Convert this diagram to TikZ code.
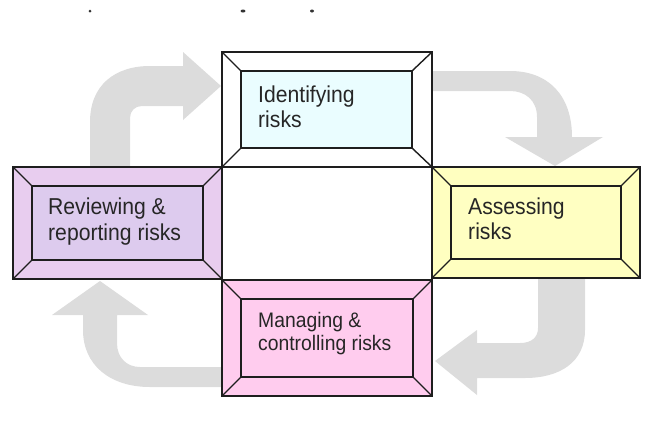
\documentclass[tikz,border=0pt]{standalone}
\usepackage{fontspec}
\setmainfont{Liberation Sans}[FakeStretch=0.92]
\definecolor{arrowgray}{HTML}{DCDCDC}
\definecolor{topin}{HTML}{EAFDFF}
\definecolor{topbev}{HTML}{FFFFFF}
\definecolor{leftin}{HTML}{DDCBEE}
\definecolor{leftbev}{HTML}{E8CDEF}
\definecolor{rightin}{HTML}{FFFFC2}
\definecolor{rightbev}{HTML}{FFFFC0}
\definecolor{botin}{HTML}{FFCCEE}
\definecolor{botbev}{HTML}{FFCCEE}
\definecolor{edgecol}{HTML}{1E1E1E}
\begin{document}
\begin{tikzpicture}[x=1pt,y=-1pt,
  edge/.style={draw=edgecol, line width=1.6pt},
  panel/.style={edge, rectangle, inner sep=0pt, outer sep=0pt},
  bevline/.style={draw=edgecol, line width=1.4pt},
  cyclearrow/.style={fill=arrowgray, draw=none},
  txt/.style={inner sep=0pt, font=\fontsize{23}{25}\selectfont, text=black!85},
  smalltxt/.style={inner sep=0pt, font=\fontsize{21}{23}\selectfont, text=black!85},
  dot/.style={fill=black!80, draw=none}]
\useasboundingbox (0,0) rectangle (662,445);
% remnants of cropped caption
\fill[dot] (90,11) ellipse (1.5 and 1.5);
\fill[dot] (243,11) ellipse (2.5 and 1.5);
\fill[dot] (312,11) ellipse (2 and 1.5);
% cycle arrows
\path[cyclearrow] (90,166) -- (90,122) .. controls (90,85) and (115,66) .. (150,66)
  -- (183,66) -- (183,52) -- (221,86) -- (183,120) -- (183,106) -- (142,106)
  .. controls (135,106) and (130,111) .. (130,118) -- (130,166) -- cycle;
\path[cyclearrow] (432,71) -- (510,71) .. controls (548,71) and (572,95) .. (572,137)
  -- (603,137) -- (555,166) -- (505,137) -- (537,137) -- (537,117)
  .. controls (537,100) and (525,91) .. (510,91) -- (432,91) -- cycle;
\path[cyclearrow] (538,279) -- (585,279) -- (585,330) .. controls (585,362) and (560,378) .. (525,378)
  -- (477,378) -- (477,395) -- (435,361) -- (477,330) -- (477,343) -- (520,343)
  .. controls (532,343) and (538,337) .. (538,328) -- cycle;
\path[cyclearrow] (100,281) -- (148,315) -- (117,315) -- (117,343)
  .. controls (117,358) and (127,367) .. (140,367) -- (222,367) -- (222,387) -- (150,387)
  .. controls (110,387) and (83,365) .. (83,330) -- (83,315) -- (52,315) -- cycle;
% centre box
\node[panel, fill=white, minimum width=210pt, minimum height=113pt] (C) at (327,223.5) {};
% top box
\node[panel, fill=topbev, minimum width=210pt, minimum height=115pt] (To) at (327,109.5) {};
\node[panel, fill=topin, minimum width=171pt, minimum height=77pt] (Ti) at (326.5,109.5) {};
% left box
\node[panel, fill=leftbev, minimum width=209pt, minimum height=112pt] (Lo) at (117.5,223) {};
\node[panel, fill=leftin, minimum width=171pt, minimum height=74pt] (Li) at (117.5,223) {};
% right box
\node[panel, fill=rightbev, minimum width=208pt, minimum height=111pt] (Ro) at (536,222.5) {};
\node[panel, fill=rightin, minimum width=170pt, minimum height=73pt] (Ri) at (536,222.5) {};
% bottom box
\node[panel, fill=botbev, minimum width=210pt, minimum height=116pt] (Bo) at (327,338) {};
\node[panel, fill=botin, minimum width=172pt, minimum height=78pt] (Bi) at (327,338) {};
% bevel diagonals
\foreach \b in {T,L,R,B}{
  \foreach \c in {north west, north east, south west, south east}{
    \draw[bevline] (\b o.\c) -- (\b i.\c);
  }
}
% texts
\node[txt, anchor=base west] (t1a) at (258,102) {Identifying};
\node[txt, anchor=base west] (t1b) at (258,127) {risks};
\node[txt, anchor=base west] (t2a) at (468,214) {Assessing};
\node[txt, anchor=base west] (t2b) at (468,239) {risks};
\node[smalltxt, anchor=base west] (t3a) at (258,327) {Managing \&};
\node[smalltxt, anchor=base west] (t3b) at (258,350) {controlling risks};
\node[txt, anchor=base west] (t4a) at (48,214) {Reviewing \&};
\node[txt, anchor=base west] (t4b) at (48,240) {reporting risks};
\end{tikzpicture}
\end{document}
